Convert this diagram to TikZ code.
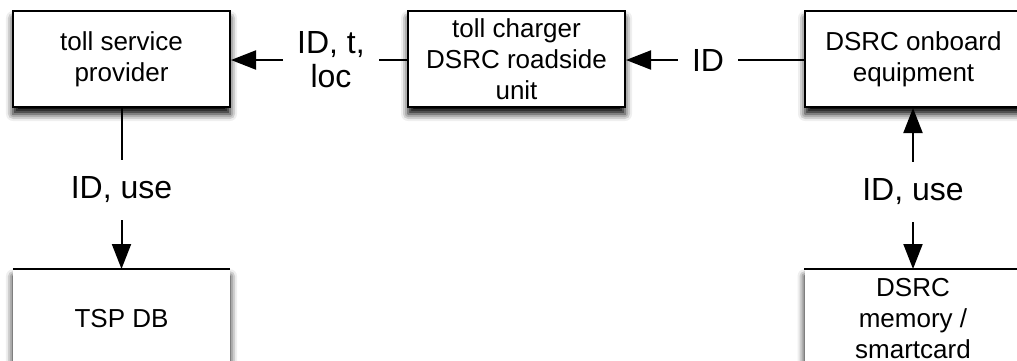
\documentclass[tikz,border=0pt]{standalone}
\usepackage{fontspec}
\setmainfont{Liberation Sans}
\usetikzlibrary{shadows.blur,arrows.meta}
\begin{document}
\begin{tikzpicture}[x=1pt,y=-1pt,
  shad/.style={blur shadow={shadow xshift=0pt, shadow yshift=-7pt, shadow blur radius=7pt, shadow opacity=100}},
  box/.style={shad, draw=black, line width=2pt, fill=white, minimum width=217pt, minimum height=96pt, inner sep=0pt, align=center, font=\fontsize{26}{31}\selectfont},
  store/.style={shad, fill=white, minimum width=217pt, minimum height=98pt, inner sep=0pt, align=center, anchor=north, font=\fontsize{26}{31}\selectfont},
  lbl/.style={font=\fontsize{32}{34}\selectfont, align=center, inner xsep=14pt, inner ysep=17pt},
  conn/.style={line width=2pt},
  arr/.style={conn, -{Triangle[length=25pt,width=19pt]}}
]
\useasboundingbox (0,0) rectangle (1017,360);
\clip (0,0) rectangle (1017,360);

\node[box] (tsp) at (121.5,59) {toll service\\provider};
\node[box] (rsu) at (516.5,59) {toll charger\\DSRC roadside\\unit};
\node[box] (obe) at (913.5,59) {DSRC onboard\\equipment};

\node[store] (tspdb) at (121.5,269) {TSP DB};
\draw[conn] (tspdb.north west) -- (tspdb.north east);
\node[store] (mem) at (913,269) {DSRC\\memory /\\smartcard};
\draw[conn] (mem.north west) -- (mem.north east);

% horizontal connectors
\node[lbl] (l1) at (331,60) {ID, t,\\loc};
\draw[conn] (rsu.west |- l1) -- (l1.east);
\draw[arr] (l1.west) -- (tsp.east |- l1);

\node[lbl] (l2) at (708,60) {ID};
\draw[conn] (obe.west |- l2) -- (l2.east);
\draw[arr] (l2.west) -- (rsu.east |- l2);

% vertical connectors
\node[lbl] (l3) at (121.5,190) {ID, use};
\draw[conn] (tsp.south) -- (l3.north);
\draw[arr] (l3.south) -- (tspdb.north);

\node[lbl] (l4) at (913,192) {ID, use};
\draw[arr] (l4.north) -- (obe.south -| l4);
\draw[arr] (l4.south) -- (mem.north);
\end{tikzpicture}
\end{document}
